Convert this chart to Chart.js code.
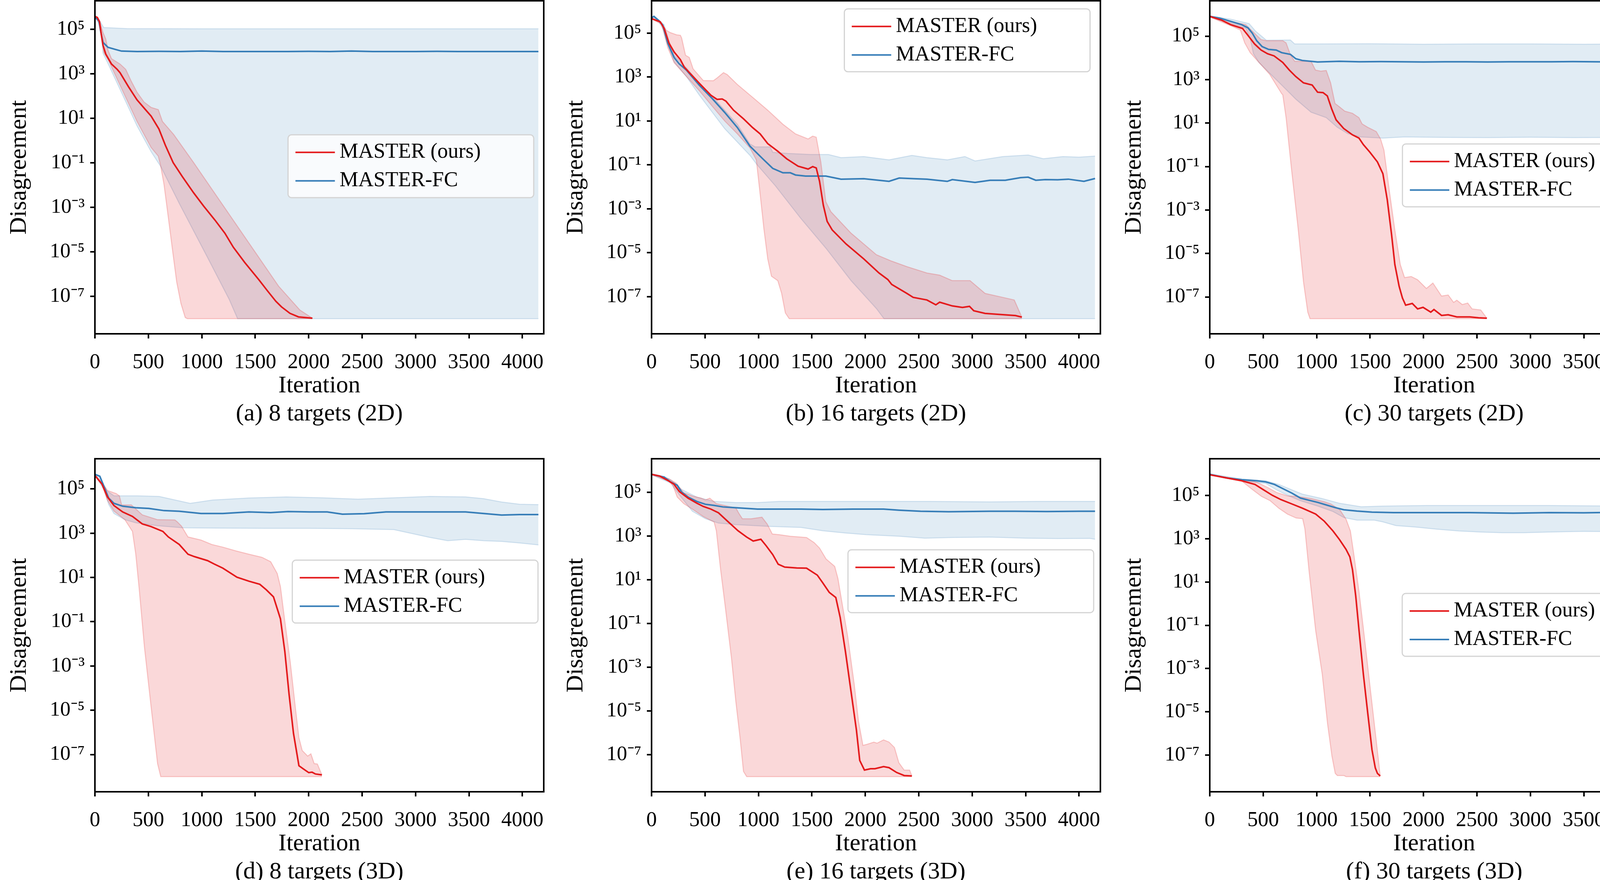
<!DOCTYPE html>
<html><head><meta charset="utf-8">
<script src="https://cdn.jsdelivr.net/npm/chart.js@4.4.1/dist/chart.umd.min.js"></script>
<style>
html,body{margin:0;padding:0;background:#fff;overflow:hidden;width:4252px;height:2254px;}
canvas{position:absolute;}
</style></head><body>
<canvas id="ca" width="1398" height="1100" style="left:0px;top:0px"></canvas>
<canvas id="cb" width="1398" height="1100" style="left:1425px;top:0px"></canvas>
<canvas id="cc" width="1398" height="1100" style="left:2854px;top:0px"></canvas>
<canvas id="cd" width="1398" height="1100" style="left:0px;top:1173px"></canvas>
<canvas id="ce" width="1398" height="1100" style="left:1425px;top:1173px"></canvas>
<canvas id="cf" width="1398" height="1100" style="left:2854px;top:1173px"></canvas>
<script>
// ---------- tick labels / categories ----------
const xTickValues = [0, 500, 1000, 1500, 2000, 2500, 3000, 3500, 4000];
const yTickExponents = [-7, -5, -3, -1, 1, 3, 5];
const seriesLabels = ['MASTER (ours)', 'MASTER-FC'];
const captions = ['(a) 8 targets (2D)', '(b) 16 targets (2D)', '(c) 30 targets (2D)',
                  '(d) 8 targets (3D)', '(e) 16 targets (3D)', '(f) 30 targets (3D)'];

// ---------- data: x = iteration, values = log10(disagreement) ----------
// (a) 8 targets 2D
const a_redX = [0, 23, 43, 63, 76, 102, 155, 208, 235, 314, 394, 473, 526, 599, 659, 732, 818, 924, 1017, 1123, 1216, 1295, 1401, 1534, 1613, 1693, 1746, 1825, 1905, 2035];
const a_redMean = [5.58, 5.53, 5.34, 4.66, 4.27, 3.88, 3.44, 3.20, 3.05, 2.42, 1.83, 1.39, 1.10, 0.52, -0.21, -0.99, -1.62, -2.35, -2.94, -3.57, -4.16, -4.79, -5.47, -6.25, -6.74, -7.22, -7.47, -7.76, -7.92, -7.98];
const a_redHiX = [0, 43, 76, 102, 122, 155, 235, 288, 341, 394, 460, 526, 593, 632, 738, 924, 1189, 1454, 1719, 1918, 2035];
const a_redHi = [5.60, 5.39, 4.85, 4.56, 4.07, 3.68, 3.44, 3.20, 2.66, 2.17, 1.73, 1.49, 1.39, 0.86, 0.27, -0.99, -2.84, -4.69, -6.54, -7.61, -7.98];
const a_redLoX = [0, 49, 82, 129, 261, 394, 526, 593, 613, 646, 686, 725, 765, 805, 845, 865, 2035];
const a_redLo = [5.55, 5.24, 3.97, 3.58, 2.22, 0.86, -0.31, -0.70, -1.09, -1.96, -3.43, -4.89, -6.35, -7.32, -7.95, -8.0, -8.0];
const a_blueX = [0, 36, 56, 76, 122, 195, 248, 394, 600, 800, 1000, 1200, 1400, 1600, 1800, 2000, 2200, 2400, 2600, 2800, 3000, 3200, 3400, 3600, 3800, 4000, 4150];
const a_blueMean = [5.55, 5.39, 4.85, 4.41, 4.19, 4.09, 4.02, 4.00, 4.01, 4.00, 4.02, 4.00, 4.00, 4.00, 4.00, 4.01, 4.00, 4.02, 4.00, 4.00, 4.00, 4.01, 4.00, 4.00, 4.00, 4.00, 4.00];
const a_blueHiX = [0, 36, 82, 300, 1000, 2000, 3000, 4150];
const a_blueHi = [5.58, 5.45, 5.08, 5.03, 5.02, 5.02, 5.02, 5.02];
const a_blueLoX = [0, 49, 76, 129, 261, 394, 526, 619, 791, 1057, 1256, 1335, 4150];
const a_blueLo = [5.52, 5.20, 3.92, 3.39, 2.03, 0.66, -0.50, -1.19, -2.84, -5.28, -7.13, -8.0, -8.0];

// (b) 16 targets 2D
const b_redX = [0, 81, 117, 164, 211, 270, 306, 353, 448, 555, 614, 661, 696, 767, 862, 945, 1016, 1087, 1181, 1264, 1371, 1465, 1508, 1541, 1572, 1607, 1643, 1690, 1820, 1986, 2128, 2211, 2247, 2389, 2448, 2577, 2660, 2696, 2814, 2909, 2975, 3015, 3121, 3287, 3405, 3465];
const b_redMean = [5.66, 5.51, 5.22, 4.53, 4.14, 3.79, 3.45, 3.20, 2.71, 2.17, 1.98, 2.00, 1.90, 1.49, 1.09, 0.70, 0.41, -0.03, -0.38, -0.72, -1.06, -1.19, -1.08, -1.14, -1.75, -2.83, -3.57, -3.96, -4.60, -5.28, -5.92, -6.22, -6.44, -6.85, -7.03, -7.15, -7.37, -7.25, -7.42, -7.49, -7.44, -7.64, -7.76, -7.82, -7.86, -7.93];
const b_redHiX = [0, 81, 140, 176, 235, 270, 282, 318, 353, 389, 484, 578, 614, 673, 708, 803, 969, 1087, 1229, 1347, 1465, 1508, 1541, 1584, 1631, 1678, 1867, 2104, 2246, 2389, 2577, 2696, 2814, 2980, 3121, 3287, 3394, 3465];
const b_redHi = [5.69, 5.51, 5.12, 5.02, 4.92, 4.90, 4.77, 3.99, 3.89, 3.37, 2.84, 2.83, 2.96, 3.20, 3.11, 2.66, 1.98, 1.49, 0.85, 0.41, 0.18, 0.31, 0.26, -0.87, -2.68, -3.13, -4.11, -5.09, -5.38, -5.63, -5.92, -6.02, -6.27, -6.27, -6.85, -7.03, -7.15, -7.93];
const b_redLoX = [0, 93, 152, 211, 329, 448, 566, 684, 803, 921, 980, 1016, 1051, 1087, 1122, 1181, 1217, 1252, 1288, 3465];
const b_redLo = [5.63, 5.41, 4.33, 3.65, 3.01, 2.37, 1.68, 1.00, 0.41, -0.23, -0.77, -2.34, -3.91, -5.28, -6.07, -6.27, -6.85, -7.74, -8.0, -8.0];
const b_blueX = [0, 22, 69, 105, 152, 211, 258, 329, 448, 566, 684, 803, 921, 1040, 1134, 1229, 1299, 1347, 1441, 1631, 1773, 1986, 2222, 2317, 2459, 2577, 2767, 2814, 3027, 3168, 3310, 3453, 3524, 3595, 3684, 3800, 3900, 4046, 4150];
const b_blueMean = [5.69, 5.76, 5.56, 5.36, 4.53, 3.89, 3.60, 3.30, 2.62, 2.03, 1.39, 0.70, -0.15, -0.72, -1.16, -1.36, -1.36, -1.46, -1.51, -1.51, -1.65, -1.63, -1.75, -1.60, -1.63, -1.65, -1.75, -1.67, -1.80, -1.70, -1.70, -1.58, -1.56, -1.70, -1.67, -1.68, -1.65, -1.75, -1.62];
const b_blueHiX = [0, 22, 69, 117, 164, 211, 329, 448, 566, 684, 803, 921, 969, 1110, 1134, 1276, 1489, 1655, 1773, 1986, 2222, 2436, 2577, 2767, 2932, 3027, 3287, 3524, 3666, 3850, 4000, 4150];
const b_blueHi = [5.71, 5.78, 5.60, 5.38, 4.62, 3.99, 3.40, 2.72, 2.13, 1.49, 0.85, -0.05, -0.18, -0.18, -0.43, -0.48, -0.53, -0.53, -0.67, -0.62, -0.77, -0.57, -0.67, -0.77, -0.62, -0.82, -0.62, -0.55, -0.72, -0.62, -0.65, -0.60];
const b_blueLoX = [0, 69, 117, 164, 211, 329, 448, 684, 921, 980, 1158, 1394, 1631, 1867, 2104, 2175, 4150];
const b_blueLo = [5.67, 5.50, 5.10, 4.30, 3.69, 3.00, 2.17, 0.65, -0.57, -0.95, -1.95, -3.42, -4.79, -6.27, -7.54, -8.0, -8.0];

// (c) 30 targets 2D
const c_redX = [0, 113, 195, 307, 358, 419, 480, 541, 602, 683, 744, 805, 877, 958, 1009, 1060, 1100, 1141, 1182, 1253, 1335, 1396, 1437, 1498, 1569, 1620, 1661, 1701, 1732, 1772, 1803, 1833, 1895, 1945, 1996, 2068, 2098, 2169, 2231, 2312, 2434, 2516, 2593];
const c_redMean = [5.91, 5.73, 5.53, 5.35, 5.03, 4.64, 4.36, 4.19, 4.09, 3.79, 3.44, 3.14, 2.85, 2.75, 2.42, 2.40, 2.25, 1.65, 1.15, 0.75, 0.46, 0.31, 0.01, -0.34, -0.79, -1.33, -2.53, -4.12, -5.51, -6.51, -7.05, -7.38, -7.30, -7.55, -7.48, -7.70, -7.58, -7.85, -7.82, -7.92, -7.92, -7.96, -7.98];
const c_redHiX = [0, 195, 337, 398, 480, 530, 683, 714, 755, 795, 948, 989, 1039, 1090, 1131, 1172, 1213, 1263, 1335, 1396, 1426, 1477, 1558, 1599, 1630, 1681, 1732, 1783, 1823, 1885, 1945, 2027, 2088, 2169, 2231, 2282, 2312, 2363, 2414, 2455, 2536, 2593];
const c_redHi = [5.93, 5.68, 5.53, 5.23, 4.84, 4.79, 4.79, 4.69, 4.14, 3.84, 3.84, 3.44, 3.39, 3.42, 2.85, 1.90, 1.75, 1.55, 1.45, 1.25, 0.96, 0.81, 0.61, 0.26, -0.24, -2.13, -3.92, -5.51, -6.11, -6.06, -6.21, -6.61, -6.36, -6.96, -6.91, -7.25, -7.15, -7.35, -7.28, -7.55, -7.60, -7.98];
const c_redLoX = [0, 195, 286, 327, 378, 460, 561, 673, 683, 714, 765, 826, 877, 917, 938, 2593];
const c_redLo = [5.88, 5.48, 5.28, 4.69, 4.24, 3.79, 3.24, 2.35, 2.30, 1.25, -1.13, -3.82, -6.31, -7.70, -8.0, -8.0];
const c_blueX = [0, 93, 195, 297, 358, 399, 439, 490, 551, 622, 673, 755, 805, 866, 1009, 1213, 1400, 1600, 1800, 2000, 2200, 2400, 2600, 2800, 3000, 3200, 3400, 3600, 3800, 4000, 4150];
const c_blueMean = [5.91, 5.83, 5.68, 5.53, 5.38, 5.13, 4.79, 4.52, 4.39, 4.36, 4.24, 4.16, 3.96, 3.88, 3.81, 3.84, 3.82, 3.83, 3.82, 3.81, 3.82, 3.82, 3.81, 3.82, 3.82, 3.82, 3.83, 3.82, 3.81, 3.82, 3.82];
const c_blueHiX = [0, 195, 368, 429, 530, 755, 795, 1009, 1500, 2000, 2500, 3000, 3500, 4000, 4150];
const c_blueHi = [5.93, 5.78, 5.58, 5.23, 4.81, 4.82, 4.64, 4.64, 4.65, 4.63, 4.64, 4.64, 4.63, 4.64, 4.63];
const c_blueLoX = [0, 195, 337, 378, 409, 460, 561, 683, 805, 948, 1090, 1192, 1294, 1416, 1620, 1823, 2200, 2600, 3000, 3400, 3800, 4100, 4150];
const c_blueLo = [5.88, 5.58, 5.35, 4.89, 4.19, 3.79, 3.29, 2.70, 2.10, 1.50, 1.25, 0.81, 0.51, 0.36, 0.31, 0.36, 0.34, 0.33, 0.35, 0.33, 0.34, 0.31, 0.25];

// (d) 8 targets 3D
const d_redX = [0, 66, 117, 178, 260, 351, 443, 524, 636, 687, 789, 871, 932, 1054, 1115, 1197, 1329, 1441, 1543, 1604, 1671, 1736, 1777, 1817, 1858, 1909, 1950, 2001, 2032, 2063, 2124];
const d_redMean = [5.61, 5.22, 4.64, 4.25, 3.96, 3.76, 3.42, 3.30, 3.08, 2.83, 2.49, 2.05, 1.94, 1.76, 1.61, 1.42, 1.01, 0.83, 0.69, 0.44, 0.12, -0.87, -2.34, -4.29, -6.04, -7.51, -7.65, -7.82, -7.80, -7.88, -7.92];
const d_redHiX = [0, 66, 117, 199, 229, 250, 341, 443, 586, 748, 769, 810, 871, 993, 1094, 1197, 1319, 1441, 1563, 1645, 1706, 1736, 1777, 1828, 1878, 1909, 1940, 1991, 2021, 2052, 2082, 2124];
const d_redHi = [5.64, 5.29, 4.93, 4.79, 4.69, 4.28, 4.28, 3.83, 3.61, 3.60, 3.52, 3.32, 2.83, 2.69, 2.49, 2.37, 2.20, 2.05, 1.91, 1.71, 1.18, 0.59, -0.97, -2.82, -4.97, -6.24, -6.82, -7.07, -6.97, -7.41, -7.43, -7.92];
const d_redLoX = [0, 66, 117, 178, 280, 351, 382, 412, 463, 524, 586, 616, 2124];
const d_redLo = [5.58, 5.18, 4.49, 4.00, 3.61, 3.08, 2.05, 0.59, -2.14, -4.78, -7.41, -8.0, -8.0];
const d_blueX = [0, 46, 87, 128, 178, 260, 382, 504, 647, 789, 993, 1197, 1441, 1645, 1807, 2011, 2174, 2316, 2520, 2723, 2927, 3133, 3469, 3637, 3805, 3973, 4150];
const d_blueMean = [5.66, 5.57, 5.08, 4.59, 4.35, 4.22, 4.15, 4.12, 4.02, 3.99, 3.89, 3.89, 3.96, 3.93, 3.98, 3.96, 3.96, 3.86, 3.88, 3.96, 3.96, 3.96, 3.96, 3.89, 3.82, 3.84, 3.84];
const d_blueHiX = [0, 46, 87, 117, 178, 400, 600, 891, 1100, 1441, 1790, 2126, 2461, 2797, 3133, 3469, 3637, 3805, 3973, 4150];
const d_blueHi = [5.68, 5.60, 5.15, 4.90, 4.69, 4.69, 4.66, 4.35, 4.50, 4.59, 4.64, 4.60, 4.54, 4.60, 4.66, 4.64, 4.56, 4.41, 4.31, 4.29];
const d_blueLoX = [0, 87, 128, 178, 280, 382, 586, 830, 1197, 1600, 2011, 2400, 2797, 3133, 3301, 3469, 3637, 3805, 3973, 4150];
const d_blueLo = [5.63, 4.95, 4.30, 3.89, 3.61, 3.47, 3.34, 3.24, 3.23, 3.22, 3.22, 3.20, 3.16, 2.81, 2.66, 2.72, 2.66, 2.63, 2.56, 2.47];

// (e) 16 targets 3D
const e_redX = [0, 77, 159, 209, 260, 342, 423, 484, 555, 626, 708, 809, 890, 951, 1023, 1073, 1134, 1185, 1246, 1358, 1450, 1551, 1602, 1663, 1724, 1765, 1815, 1866, 1917, 1948, 1992, 2049, 2090, 2171, 2222, 2293, 2364, 2436];
const e_redMean = [5.82, 5.74, 5.52, 5.37, 5.03, 4.73, 4.50, 4.35, 4.23, 4.06, 3.69, 3.24, 2.95, 2.77, 2.85, 2.55, 2.15, 1.71, 1.58, 1.54, 1.53, 1.21, 0.86, 0.42, 0.19, -0.72, -2.31, -4.09, -5.87, -7.26, -7.70, -7.64, -7.64, -7.54, -7.59, -7.81, -7.95, -7.97];
const e_redHiX = [0, 159, 230, 301, 382, 464, 504, 545, 606, 789, 819, 850, 931, 1033, 1083, 1130, 1195, 1297, 1450, 1521, 1572, 1633, 1714, 1744, 1785, 1836, 1897, 1937, 1978, 2019, 2080, 2110, 2171, 2222, 2273, 2314, 2364, 2415, 2436];
const e_redHi = [5.84, 5.62, 5.42, 4.98, 4.83, 4.73, 4.65, 4.73, 4.48, 4.28, 4.02, 3.79, 3.79, 3.86, 3.54, 3.09, 3.06, 2.99, 2.93, 2.70, 2.45, 1.95, 1.61, 1.06, -0.13, -1.61, -3.79, -5.48, -6.57, -6.52, -6.42, -6.47, -6.32, -6.42, -6.67, -7.36, -7.70, -7.70, -7.97];
const e_redLoX = [0, 159, 199, 240, 301, 382, 484, 585, 606, 646, 687, 748, 789, 829, 860, 890, 2436];
const e_redLo = [5.80, 5.52, 5.32, 4.78, 4.48, 4.23, 3.89, 3.64, 3.24, 1.46, -0.13, -2.60, -4.59, -6.27, -7.76, -8.0, -8.0];
const e_blueX = [0, 118, 179, 240, 281, 342, 423, 504, 585, 667, 789, 992, 1195, 1399, 1602, 1887, 2171, 2314, 2517, 2781, 3163, 3400, 3700, 4000, 4150];
const e_blueMean = [5.82, 5.69, 5.47, 5.32, 5.01, 4.78, 4.58, 4.45, 4.40, 4.33, 4.29, 4.23, 4.23, 4.23, 4.21, 4.23, 4.23, 4.18, 4.13, 4.11, 4.13, 4.13, 4.12, 4.13, 4.13];
const e_blueHiX = [0, 118, 179, 281, 423, 585, 789, 992, 1195, 1602, 2000, 2600, 3163, 3600, 4000, 4150];
const e_blueHi = [5.84, 5.72, 5.57, 5.13, 4.78, 4.58, 4.53, 4.53, 4.58, 4.58, 4.58, 4.58, 4.56, 4.58, 4.58, 4.58];
const e_blueLoX = [0, 179, 260, 382, 504, 626, 789, 1094, 1399, 1602, 1805, 2009, 2314, 2557, 2822, 3163, 3500, 3800, 4100, 4150];
const e_blueLo = [5.80, 5.42, 4.88, 4.13, 3.79, 3.59, 3.52, 3.44, 3.39, 3.24, 3.14, 3.06, 2.99, 2.90, 2.93, 2.95, 2.90, 2.88, 2.89, 2.85];

// (f) 30 targets 3D
const f_redX = [0, 159, 301, 423, 504, 585, 666, 768, 869, 991, 1072, 1153, 1214, 1275, 1311, 1336, 1366, 1397, 1437, 1478, 1518, 1549, 1569, 1595];
const f_redMean = [5.96, 5.81, 5.68, 5.51, 5.26, 5.01, 4.81, 4.61, 4.41, 4.14, 3.81, 3.36, 2.96, 2.51, 2.16, 1.56, 0.35, -1.25, -3.25, -5.05, -6.76, -7.60, -7.85, -7.97];
const f_redHiX = [0, 301, 443, 545, 626, 727, 808, 889, 950, 1072, 1133, 1214, 1275, 1316, 1346, 1397, 1447, 1498, 1549, 1579, 1595];
const f_redHi = [5.97, 5.73, 5.61, 5.36, 5.14, 4.98, 4.96, 4.91, 4.86, 4.71, 4.61, 4.36, 3.91, 3.36, 2.36, 0.55, -1.55, -3.75, -5.95, -7.25, -7.97];
const f_redLoX = [0, 301, 403, 484, 565, 646, 727, 808, 869, 890, 930, 991, 1052, 1102, 1143, 1174, 1194, 1255, 1275, 1595];
const f_redLo = [5.94, 5.66, 5.26, 4.96, 4.76, 4.41, 4.14, 3.96, 3.93, 3.46, 1.46, -1.25, -3.25, -5.55, -7.05, -7.85, -7.95, -7.95, -8.0, -8.0];
const f_blueX = [0, 159, 301, 443, 524, 606, 687, 768, 849, 930, 1011, 1092, 1174, 1255, 1377, 1518, 1721, 2026, 2432, 2838, 3178, 3500, 3800, 4000, 4150];
const f_blueMean = [5.98, 5.81, 5.73, 5.68, 5.63, 5.51, 5.31, 5.11, 4.88, 4.78, 4.68, 4.56, 4.44, 4.34, 4.28, 4.23, 4.21, 4.21, 4.21, 4.18, 4.21, 4.20, 4.22, 4.19, 4.19];
const f_blueHiX = [0, 301, 524, 646, 768, 869, 1052, 1214, 1417, 1620, 2026, 2432, 3178, 3600, 4000, 4150];
const f_blueHi = [6.00, 5.76, 5.68, 5.51, 5.26, 5.06, 4.86, 4.64, 4.48, 4.51, 4.54, 4.54, 4.54, 4.52, 4.51, 4.50];
const f_blueLoX = [0, 301, 524, 625, 727, 849, 1011, 1153, 1255, 1377, 1539, 1620, 1742, 1924, 2127, 2330, 2533, 2736, 2939, 3178, 3500, 3800, 4100, 4150];
const f_blueLo = [5.96, 5.68, 5.56, 5.26, 5.01, 4.76, 4.51, 4.26, 3.98, 3.86, 3.86, 3.78, 3.61, 3.54, 3.44, 3.36, 3.31, 3.28, 3.28, 3.31, 3.34, 3.33, 3.35, 3.30];

// ---------- styling ----------
const FONT = '"Liberation Serif", "Times New Roman", Times, serif';
const RED = '#e41a1c', BLUE = '#377eb8';
const RED_FILL = 'rgba(228,26,28,0.17)', RED_EDGE = 'rgba(228,26,28,0.22)';
const BLUE_FILL = 'rgba(55,126,184,0.15)', BLUE_EDGE = 'rgba(55,126,184,0.2)';
const SUP = {'-': '\u207B', '0': '\u2070', '1': '\u00B9', '2': '\u00B2', '3': '\u00B3', '4': '\u2074', '5': '\u2075', '6': '\u2076', '7': '\u2077', '8': '\u2078', '9': '\u2079'};

function sciLabel(v) {
  const e = Math.round(Math.log10(v));
  return '10' + String(e).split('').map(c => SUP[c]).join('');
}
function pts(xs, logs) { return xs.map((x, i) => ({x: x, y: Math.pow(10, logs[i])})); }

const framePlugin = {
  id: 'frame',
  afterDatasetsDraw(chart) {
    const {ctx, chartArea: a} = chart;
    ctx.save();
    ctx.strokeStyle = '#000'; ctx.lineWidth = 4;
    ctx.strokeRect(a.left, a.top, a.right - a.left, a.bottom - a.top);
    ctx.restore();
  }
};
const boxLegend = {
  id: 'boxLegend',
  afterDraw(chart, args, opts) {
    if (!opts || opts.iter === undefined) return;
    const ctx = chart.ctx;
    const left = chart.scales.x.getPixelForValue(opts.iter);
    const top = chart.scales.y.getPixelForValue(Math.pow(10, opts.logTop));
    const w = 629, h = 161;
    ctx.save();
    ctx.beginPath();
    ctx.roundRect(left, top, w, h, 9);
    ctx.fillStyle = 'rgba(255,255,255,0.8)'; ctx.fill();
    ctx.lineWidth = 3; ctx.strokeStyle = '#d4d4d4'; ctx.stroke();
    [0, 1].forEach(k => {
      const ds = chart.data.datasets[k];
      const cy = top + 45 + k * 73;
      ctx.beginPath(); ctx.moveTo(left + 19, cy); ctx.lineTo(left + 120, cy);
      ctx.strokeStyle = ds.borderColor; ctx.lineWidth = 4; ctx.stroke();
      ctx.fillStyle = '#000'; ctx.font = '54px ' + FONT;
      ctx.textBaseline = 'middle'; ctx.textAlign = 'left';
      ctx.fillText(ds.label, left + 132, cy);
    });
    ctx.restore();
  }
};
Chart.register(framePlugin, boxLegend);

function makePanel(id, caption, s, legendPos) {
  const allLogs = [].concat(s.rm, s.rh, s.rl, s.bm, s.bh, s.bl);
  const hi = Math.max(...allLogs), lo = Math.min(...allLogs);
  const span = hi - lo;
  const yMin = Math.pow(10, lo - 0.05 * span), yMax = Math.pow(10, hi + 0.05 * span);
  const tickGrid = {display: true, drawOnChartArea: false, drawTicks: true, tickLength: 12, tickWidth: 4, tickColor: '#000', lineWidth: 4, color: '#000'};
  const line = (label, data, color, width, fill, bg) => ({label, data, borderColor: color, borderWidth: width, backgroundColor: bg || 'rgba(0,0,0,0)', fill: fill, pointRadius: 0, tension: 0});
  new Chart(document.getElementById(id), {
    type: 'line',
    data: {datasets: [
      line(seriesLabels[0], pts(s.rx, s.rm), RED, 4, false),
      line(seriesLabels[1], pts(s.bx, s.bm), BLUE, 4, false),
      line('red upper', pts(s.rhx, s.rh), RED_EDGE, 2.5, '+1', RED_FILL),
      line('red lower', pts(s.rlx, s.rl), RED_EDGE, 2.5, false),
      line('blue upper', pts(s.bhx, s.bh), BLUE_EDGE, 2.5, '+1', BLUE_FILL),
      line('blue lower', pts(s.blx, s.bl), BLUE_EDGE, 2.5, false)
    ]},
    options: {
      responsive: false, animation: false, events: [],
      layout: {padding: {left: 0, top: 2, right: 6, bottom: 4}},
      plugins: {legend: {display: false}, tooltip: {enabled: false}, boxLegend: legendPos},
      scales: {
        x: {
          type: 'linear', min: 0, max: 4200,
          afterBuildTicks: sc => { sc.ticks = xTickValues.map(v => ({value: v})); },
          afterFit: sc => { sc.height = 241; sc.paddingLeft = 0; sc.paddingRight = 0; },
          grid: tickGrid, border: {display: false},
          ticks: {color: '#000', font: {family: FONT, size: 54}, padding: 29, maxRotation: 0, autoSkip: false, callback: v => String(v)},
          title: {display: true, text: ['Iteration', caption], color: '#000', font: {family: FONT, size: 62, lineHeight: 1.15}, padding: {top: 0, bottom: 0}}
        },
        y: {
          type: 'logarithmic', min: yMin, max: yMax,
          afterBuildTicks: sc => { sc.ticks = yTickExponents.map(e => ({value: Math.pow(10, e)})); },
          afterFit: sc => { sc.width = 243; sc.paddingTop = 0; sc.paddingBottom = 0; },
          grid: tickGrid, border: {display: false},
          ticks: {color: '#000', font: {family: FONT, size: 53}, padding: 14, autoSkip: false, callback: v => sciLabel(v)},
          title: {display: true, text: 'Disagreement', color: '#000', font: {family: FONT, size: 62, lineHeight: 1.2}, padding: {top: 13, bottom: 0}}
        }
      }
    }
  });
}

makePanel('ca', captions[0], {rx: a_redX, rm: a_redMean, rhx: a_redHiX, rh: a_redHi, rlx: a_redLoX, rl: a_redLo, bx: a_blueX, bm: a_blueMean, bhx: a_blueHiX, bh: a_blueHi, blx: a_blueLoX, bl: a_blueLo}, {iter: 1807, logTop: 0.26});
makePanel('cb', captions[1], {rx: b_redX, rm: b_redMean, rhx: b_redHiX, rh: b_redHi, rlx: b_redLoX, rl: b_redLo, bx: b_blueX, bm: b_blueMean, bhx: b_blueHiX, bh: b_blueHi, blx: b_blueLoX, bl: b_blueLo}, {iter: 1804, logTop: 6.10});
makePanel('cc', captions[2], {rx: c_redX, rm: c_redMean, rhx: c_redHiX, rh: c_redHi, rlx: c_redLoX, rl: c_redLo, bx: c_blueX, bm: c_blueMean, bhx: c_blueHiX, bh: c_blueHi, blx: c_blueLoX, bl: c_blueLo}, {iter: 1803, logTop: 0.04});
makePanel('cd', captions[3], {rx: d_redX, rm: d_redMean, rhx: d_redHiX, rh: d_redHi, rlx: d_redLoX, rl: d_redLo, bx: d_blueX, bm: d_blueMean, bhx: d_blueHiX, bh: d_blueHi, blx: d_blueLoX, bl: d_blueLo}, {iter: 1847, logTop: 1.78});
makePanel('ce', captions[4], {rx: e_redX, rm: e_redMean, rhx: e_redHiX, rh: e_redHi, rlx: e_redLoX, rl: e_redLo, bx: e_blueX, bm: e_blueMean, bhx: e_blueHiX, bh: e_blueHi, blx: e_blueLoX, bl: e_blueLo}, {iter: 1838, logTop: 2.37});
makePanel('cf', captions[5], {rx: f_redX, rm: f_redMean, rhx: f_redHiX, rh: f_redHi, rlx: f_redLoX, rl: f_redLo, bx: f_blueX, bm: f_blueMean, bhx: f_blueHiX, bh: f_blueHi, blx: f_blueLoX, bl: f_blueLo}, {iter: 1801, logTop: 0.47});
</script>
</body></html>
